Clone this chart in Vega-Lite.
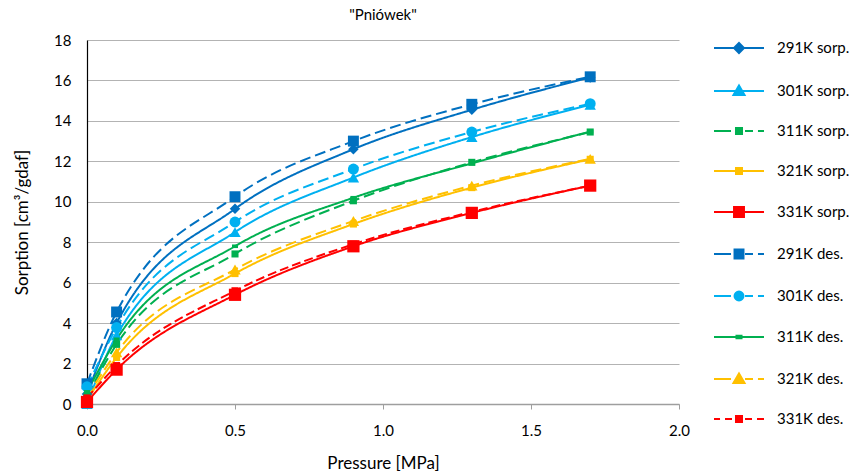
{
  "$schema": "https://vega.github.io/schema/vega-lite/v6.json",
  "autosize": "none",
  "width": 592,
  "height": 364,
  "padding": {"left": 87, "top": 40, "right": 175, "bottom": 70},
  "background": "white",
  "title": {"text": "\"Pniówek\"", "font": "Lato", "fontSize": 15, "fontWeight": "normal", "color": "#000000", "offset": 10},
  "config": {
    "view": {"stroke": null},
    "axis": {"labelFont": "Lato", "titleFont": "Lato", "labelFontSize": 15, "titleFontSize": 17, "titleFontWeight": "normal", "labelColor": "#000000", "titleColor": "#000000", "gridColor": "#b3b3b3", "gridWidth": 1},
    "legend": {"orient": "right", "offset": 52, "symbolSize": 196, "labelOffset": 30, "rowPadding": 24, "labelFont": "Lato", "labelFontSize": 15, "labelColor": "#000000", "symbolStrokeWidth": 2, "padding": 0, "symbolOpacity": 1}
  },
  "data": {"values": [
    {"p": 0, "v": 0.5, "s": "291K sorp."}, {"p": 0.1, "v": 4.0, "s": "291K sorp."}, {"p": 0.5, "v": 9.65, "s": "291K sorp."}, {"p": 0.9, "v": 12.6, "s": "291K sorp."}, {"p": 1.3, "v": 14.55, "s": "291K sorp."}, {"p": 1.7, "v": 16.15, "s": "291K sorp."},
    {"p": 0, "v": 0.0, "s": "301K sorp."}, {"p": 0.1, "v": 3.4, "s": "301K sorp."}, {"p": 0.5, "v": 8.5, "s": "301K sorp."}, {"p": 0.9, "v": 11.2, "s": "301K sorp."}, {"p": 1.3, "v": 13.2, "s": "301K sorp."}, {"p": 1.7, "v": 14.8, "s": "301K sorp."},
    {"p": 0, "v": 0.4, "s": "311K sorp."}, {"p": 0.1, "v": 2.95, "s": "311K sorp."}, {"p": 0.5, "v": 7.42, "s": "311K sorp."}, {"p": 0.9, "v": 10.05, "s": "311K sorp."}, {"p": 1.3, "v": 11.95, "s": "311K sorp."}, {"p": 1.7, "v": 13.45, "s": "311K sorp."},
    {"p": 0, "v": 0.2, "s": "321K sorp."}, {"p": 0.1, "v": 2.3, "s": "321K sorp."}, {"p": 0.5, "v": 6.45, "s": "321K sorp."}, {"p": 0.9, "v": 8.9, "s": "321K sorp."}, {"p": 1.3, "v": 10.7, "s": "321K sorp."}, {"p": 1.7, "v": 12.1, "s": "321K sorp."},
    {"p": 0, "v": 0.1, "s": "331K sorp."}, {"p": 0.1, "v": 1.7, "s": "331K sorp."}, {"p": 0.5, "v": 5.4, "s": "331K sorp."}, {"p": 0.9, "v": 7.8, "s": "331K sorp."}, {"p": 1.3, "v": 9.45, "s": "331K sorp."}, {"p": 1.7, "v": 10.8, "s": "331K sorp."},
    {"p": 0, "v": 1.0, "s": "291K des."}, {"p": 0.1, "v": 4.55, "s": "291K des."}, {"p": 0.5, "v": 10.25, "s": "291K des."}, {"p": 0.9, "v": 13.0, "s": "291K des."}, {"p": 1.3, "v": 14.82, "s": "291K des."}, {"p": 1.7, "v": 16.18, "s": "291K des."},
    {"p": 0, "v": 0.85, "s": "301K des."}, {"p": 0.1, "v": 3.78, "s": "301K des."}, {"p": 0.5, "v": 9.0, "s": "301K des."}, {"p": 0.9, "v": 11.62, "s": "301K des."}, {"p": 1.3, "v": 13.45, "s": "301K des."}, {"p": 1.7, "v": 14.85, "s": "301K des."},
    {"p": 0, "v": 0.6, "s": "311K des."}, {"p": 0.1, "v": 3.2, "s": "311K des."}, {"p": 0.5, "v": 7.8, "s": "311K des."}, {"p": 0.9, "v": 10.2, "s": "311K des."}, {"p": 1.3, "v": 11.9, "s": "311K des."}, {"p": 1.7, "v": 13.47, "s": "311K des."},
    {"p": 0, "v": 0.35, "s": "321K des."}, {"p": 0.1, "v": 2.55, "s": "321K des."}, {"p": 0.5, "v": 6.65, "s": "321K des."}, {"p": 0.9, "v": 9.05, "s": "321K des."}, {"p": 1.3, "v": 10.8, "s": "321K des."}, {"p": 1.7, "v": 12.12, "s": "321K des."},
    {"p": 0, "v": 0.3, "s": "331K des."}, {"p": 0.1, "v": 1.9, "s": "331K des."}, {"p": 0.5, "v": 5.6, "s": "331K des."}, {"p": 0.9, "v": 7.9, "s": "331K des."}, {"p": 1.3, "v": 9.5, "s": "331K des."}, {"p": 1.7, "v": 10.8, "s": "331K des."}
  ]},
  "encoding": {
    "x": {"field": "p", "type": "quantitative", "title": "Pressure [MPa]",
      "scale": {"domain": [0, 2], "nice": false, "zero": false},
      "axis": {"values": [0, 0.5, 1, 1.5, 2], "format": ".1f", "grid": false, "labelFlush": false, "domainColor": "#9e9e9e", "domainWidth": 1.5, "tickColor": "#9e9e9e", "tickSize": 5, "labelPadding": 14, "titlePadding": 17}},
    "y": {"field": "v", "type": "quantitative", "title": "Sorption [cm³/gdaf]",
      "scale": {"domain": [0, 18], "nice": false},
      "axis": {"values": [0, 2, 4, 6, 8, 10, 12, 14, 16, 18], "ticks": false, "domainColor": "#000000", "domainWidth": 1.2, "labelPadding": 16, "titlePadding": 22}}
  },
  "layer": [
    {
      "mark": {"type": "line", "interpolate": "monotone", "strokeWidth": 2},
      "encoding": {
        "color": {"field": "s", "type": "nominal", "legend": null,
          "scale": {"range": ["#0070C0","#0070C0","#00B0F0","#00B0F0","#00B050","#00B050","#FFC000","#FFC000","#FF0000","#FF0000"]}},
        "strokeDash": {"field": "s", "type": "nominal", "legend": null,
          "scale": {"range": [[11,5],[1,0],[11,5],[1,0],[1,0],[11,5],[11,5],[1,0],[9,4],[1,0]]}}
      }
    },
    {
      "transform": [{"filter": {"field": "s", "oneOf": ["291K sorp."]}}],
      "mark": {"type": "point", "filled": true, "opacity": 1, "shape": "diamond", "size": 110},
      "encoding": {"color": {"field": "s", "type": "nominal", "legend": null}}
    },
    {
      "transform": [{"filter": {"field": "s", "oneOf": ["301K sorp.", "321K des."]}}],
      "mark": {"type": "point", "filled": true, "opacity": 1, "shape": "triangle-up", "size": 130},
      "encoding": {"color": {"field": "s", "type": "nominal", "legend": null}}
    },
    {
      "transform": [{"filter": {"field": "s", "oneOf": ["311K sorp.", "321K sorp.", "331K des."]}}],
      "mark": {"type": "point", "filled": true, "opacity": 1, "shape": "square", "size": 50},
      "encoding": {"color": {"field": "s", "type": "nominal", "legend": null}}
    },
    {
      "transform": [{"filter": {"field": "s", "oneOf": ["331K sorp."]}}],
      "mark": {"type": "point", "filled": true, "opacity": 1, "shape": "square", "size": 150},
      "encoding": {"color": {"field": "s", "type": "nominal", "legend": null}}
    },
    {
      "transform": [{"filter": {"field": "s", "oneOf": ["291K des."]}}],
      "mark": {"type": "point", "filled": true, "opacity": 1, "shape": "square", "size": 120},
      "encoding": {"color": {"field": "s", "type": "nominal", "legend": null}}
    },
    {
      "transform": [{"filter": {"field": "s", "oneOf": ["301K des."]}}],
      "mark": {"type": "point", "filled": true, "opacity": 1, "shape": "circle", "size": 120},
      "encoding": {"color": {"field": "s", "type": "nominal", "legend": null}}
    },
    {
      "transform": [{"filter": {"field": "s", "oneOf": ["311K des."]}}],
      "mark": {"type": "point", "filled": true, "opacity": 1, "shape": "M-1,-0.6H1V0.6H-1Z", "size": 36},
      "encoding": {"color": {"field": "s", "type": "nominal", "legend": null}}
    },
    {
      "mark": {"type": "point", "filled": true, "strokeWidth": 2, "opacity": 0},
      "encoding": {
        "fill": {"field": "s", "type": "nominal", "title": null,
          "scale": {"domain": ["291K sorp.","301K sorp.","311K sorp.","321K sorp.","331K sorp.","291K des.","301K des.","311K des.","321K des.","331K des."],
                    "range": ["#0070C0","#00B0F0","#00B050","#FFC000","#FF0000","#0070C0","#00B0F0","#00B050","#FFC000","#FF0000"]}},
        "stroke": {"field": "s", "type": "nominal", "title": null,
          "scale": {"domain": ["291K sorp.","301K sorp.","311K sorp.","321K sorp.","331K sorp.","291K des.","301K des.","311K des.","321K des.","331K des."],
                    "range": ["#0070C0","#00B0F0","#00B050","#FFC000","#FF0000","#0070C0","#00B0F0","#00B050","#FFC000","#FF0000"]}},
        "shape": {"field": "s", "type": "nominal", "title": null,
          "scale": {"domain": ["291K sorp.","301K sorp.","311K sorp.","321K sorp.","331K sorp.","291K des.","301K des.","311K des.","321K des.","331K des."],
                    "range": [
                      "M-3.57,0H3.57M0,-0.71L0.71,0L0,0.71L-0.71,0Z",
                      "M-3.57,0H3.57M0,-0.79L0.79,0.57H-0.79Z",
                      "M-3.57,0H-1.14M0.86,0H2.0M2.71,0H3.57M-0.43,-0.43H0.43V0.43H-0.43Z",
                      "M-3.57,0H3.57M-0.43,-0.43H0.43V0.43H-0.43Z",
                      "M-3.57,0H3.57M-0.71,-0.71H0.71V0.71H-0.71Z",
                      "M-3.57,0H-1.14M0.86,0H2.0M2.71,0H3.57M-0.64,-0.64H0.64V0.64H-0.64Z",
                      "M-3.57,0H-1.14M0.86,0H2.0M2.71,0H3.57M-0.64,0A0.64,0.64 0 1,0 0.64,0A0.64,0.64 0 1,0 -0.64,0Z",
                      "M-3.57,0H3.57M-0.36,-0.17H0.36V0.17H-0.36Z",
                      "M-3.57,0H-1.14M0.86,0H2.0M2.71,0H3.57M0,-0.79L0.79,0.57H-0.79Z",
                      "M-3.57,0H-2.71M-2.0,0H-1.0M0.86,0H1.86M2.57,0H3.57M-0.43,-0.43H0.43V0.43H-0.43Z"
                    ]}}
      }
    }
  ]
}
